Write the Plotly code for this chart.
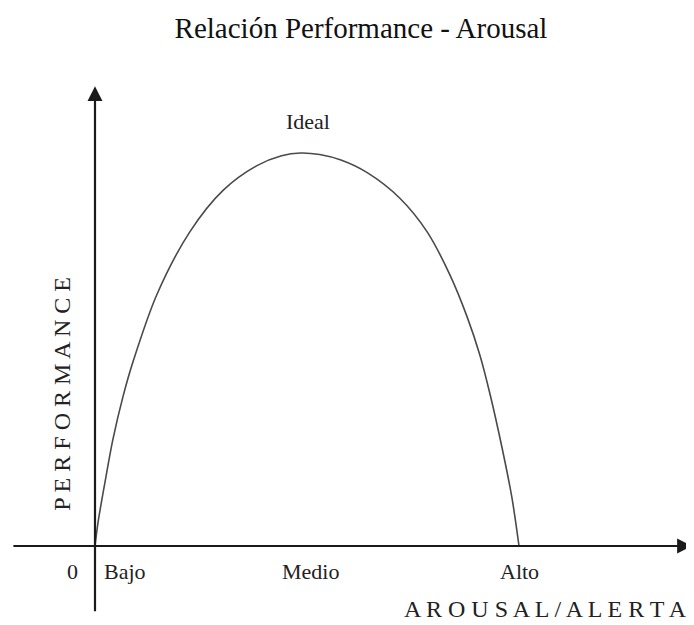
import plotly.graph_objects as go

# ---- data ----
arousal = [0, 0.7, 2.4, 4.2, 6.6, 9, 14.6, 22.4, 30.2, 38.2, 44, 48.5,
           53, 58, 64.2, 71.9, 78.3, 83.7, 87.7, 90.8, 93.2, 96, 98.3, 100]
performance = [0, 5.9, 16.5, 27, 38, 47, 64, 80, 90.5, 96.8, 99.3, 100,
               99.6, 98.2, 95, 88.5, 80, 69, 58.5, 48.5, 38.5, 25, 12.5, 0]

tick_labels = ["0", "Bajo", "Medio", "Alto"]
tick_pos = [-5.2, 7.1, 50.9, 100.2]

peak_label = "Ideal"
title_text = "Relación Performance - Arousal"
x_title = "A R O U S A L / A L E R T A"
y_title = "P E R F O R M A N C E"

FONT = "Liberation Serif"
TXT = "#222222"
# the page body has an 8px margin, so the figure is drawn 8px smaller and shifted
OFF = 8
W, H = 694 - OFF, 625 - OFF
X0, Y0 = 95 - OFF, 546 - OFF      # pixel position of the origin inside the figure
SX, SY = 4.24, 3.93               # pixels per data unit
XR = [-X0 / SX, (W - X0) / SX]
YR = [(Y0 - H) / SY, Y0 / SY]

fig = go.Figure()
fig.add_trace(go.Scatter(
    x=arousal, y=performance, mode="lines",
    line=dict(color="#4a4a4a", width=1.6, shape="spline", smoothing=0.9),
    hoverinfo="skip", showlegend=False,
))

ann = []
# axes drawn as arrows
ann.append(dict(x=140.8, y=0, ax=-19.6, ay=0, xref="x", yref="y", axref="x", ayref="y",
                text="", showarrow=True, arrowhead=2, arrowsize=1.35, arrowwidth=2.2,
                arrowcolor="#1a1a1a", standoff=0))
ann.append(dict(x=0, y=117.0, ax=0, ay=-17.0, xref="x", yref="y", axref="x", ayref="y",
                text="", showarrow=True, arrowhead=2, arrowsize=1.35, arrowwidth=2.2,
                arrowcolor="#1a1a1a", standoff=0))
# tick labels
for lab, pos in zip(tick_labels, tick_pos):
    ann.append(dict(x=pos, y=-6.6, xref="x", yref="y", text=lab, showarrow=False,
                    font=dict(family=FONT, size=22, color=TXT)))
ann.append(dict(x=50.2, y=107.9, xref="x", yref="y", text=peak_label, showarrow=False,
                font=dict(family=FONT, size=22, color=TXT)))
ann.append(dict(x=140.0, y=-16.0, xref="x", yref="y", text=x_title, showarrow=False,
                xanchor="right", font=dict(family=FONT, size=24, color=TXT)))
ann.append(dict(x=-7.8, y=38.7, xref="x", yref="y", text=y_title, showarrow=False,
                textangle=-90, font=dict(family=FONT, size=24, color=TXT)))

fig.update_layout(
    width=W, height=H,
    margin=dict(l=0, r=0, t=0, b=0),
    paper_bgcolor="white", plot_bgcolor="white",
    title=dict(text=title_text, x=(361 - OFF) / W, xanchor="center",
               y=1 - (28 - OFF) / H, yanchor="middle",
               font=dict(family=FONT, size=29, color="#111111")),
    xaxis=dict(range=XR, visible=False, fixedrange=True),
    yaxis=dict(range=YR, visible=False, fixedrange=True),
    annotations=ann,
)

fig.write_html("out.html")
